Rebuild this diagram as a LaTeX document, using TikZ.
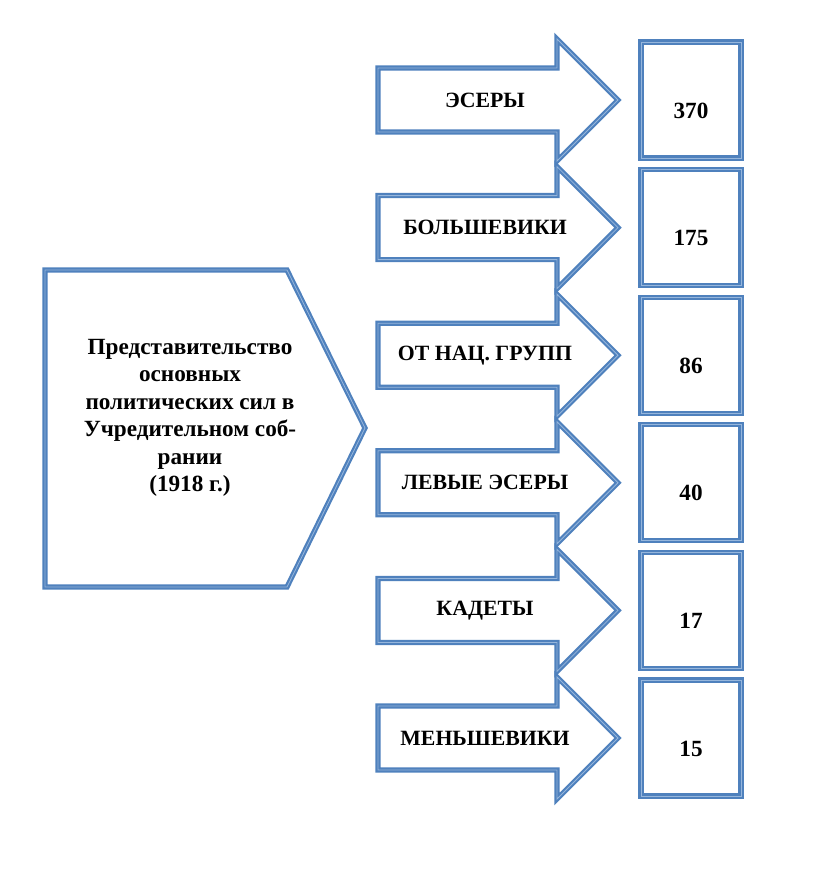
\documentclass[tikz,border=0pt]{standalone}
\usepackage{fontspec}
\setmainfont{Liberation Serif}
\usetikzlibrary{positioning}

\definecolor{frameblue}{RGB}{79,129,189}
\definecolor{framelight}{RGB}{150,182,220}

\tikzset{
  frame/.style={draw=frameblue, line width=0.13cm, line join=miter, fill=white,
    postaction={draw=framelight, line width=0.02cm, line join=miter}},
  partytext/.style={font=\bfseries\fontsize{15.5}{18}\selectfont, inner sep=0pt},
  seatbox/.style={frame, minimum width=2.5cm, minimum height=2.9cm, inner sep=0pt,
    text height=0.9cm, text depth=0pt, font=\bfseries\fontsize{16.5}{19}\selectfont},
  titletext/.style={font=\bfseries\fontsize{16.5}{19.5}\selectfont, align=center, inner sep=0pt}
}

\begin{document}
\begin{tikzpicture}[x=0.025cm, y=-0.025cm]
  \useasboundingbox (0,0) rectangle (816,893);
  % main block
  \draw [frame] (45,270) -- (287,270) -- (365,428) -- (287,587) -- (45,587) -- cycle;
  \node [titletext] (title) at (190,418) {Представительство\\основных\\политических сил в\\Учредительном соб-\\рании\\(1918 г.)};
  % parties
  \foreach \party/\seats [count=\i from 0] in {ЭСЕРЫ/370, БОЛЬШЕВИКИ/175, ОТ НАЦ. ГРУПП/86, ЛЕВЫЕ ЭСЕРЫ/40, КАДЕТЫ/17, МЕНЬШЕВИКИ/15} {
    \pgfmathsetmacro{\yc}{100+127.6*\i}
    \draw [frame] (378,\yc-32) -- (557,\yc-32) -- (557,\yc-61) -- (618,\yc)
      -- (557,\yc+61) -- (557,\yc+32) -- (378,\yc+32) -- cycle;
    \node [partytext] (party\i) at (485,\yc) {\party};
    \node [seatbox] (seats\i) at (691,\yc) {\seats};
  }
\end{tikzpicture}
\end{document}
